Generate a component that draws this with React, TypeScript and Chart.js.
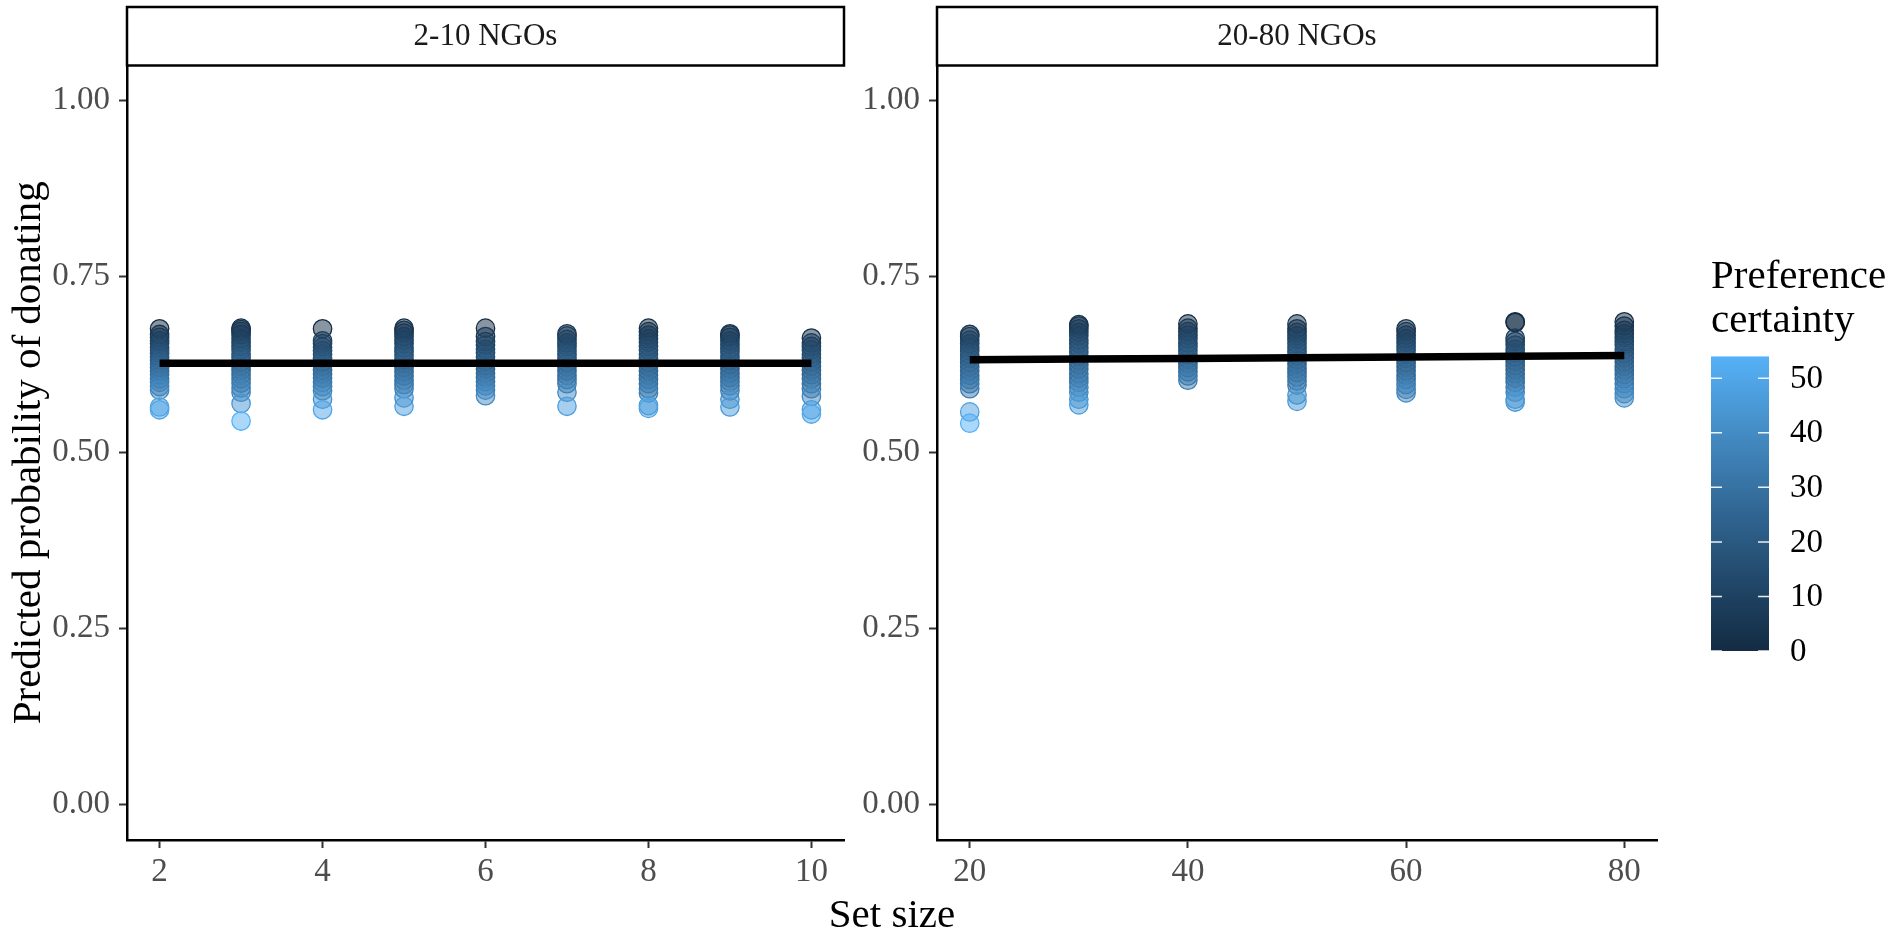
import React, { useEffect, useRef } from "react";
import { Chart, registerables } from "chart.js";
Chart.register(...registerables);

const FONT = "'Liberation Serif', 'Times New Roman', serif";
const W = 1889;
const H = 933;

// ---------- data ----------
const panelTitles = ["2-10 NGOs", "20-80 NGOs"];
const yAxisTitle = "Predicted probability of donating";
const xAxisTitle = "Set size";
const legendTitle = ["Preference", "certainty"];

const leftSetSizes = [2, 3, 4, 5, 6, 7, 8, 9, 10];
const leftProbs = [
  [0.676, 0.668, 0.664, 0.659, 0.655, 0.650, 0.646, 0.641, 0.636, 0.631, 0.626, 0.621, 0.616, 0.611, 0.605, 0.600, 0.594, 0.589, 0.565, 0.561],
  [0.677, 0.675, 0.672, 0.668, 0.662, 0.657, 0.651, 0.646, 0.640, 0.635, 0.629, 0.623, 0.617, 0.611, 0.605, 0.599, 0.592, 0.586, 0.570, 0.545],
  [0.676, 0.659, 0.655, 0.650, 0.645, 0.640, 0.634, 0.629, 0.623, 0.617, 0.612, 0.606, 0.600, 0.594, 0.588, 0.576, 0.561],
  [0.677, 0.674, 0.670, 0.665, 0.660, 0.655, 0.649, 0.644, 0.638, 0.632, 0.627, 0.621, 0.615, 0.609, 0.603, 0.597, 0.591, 0.578, 0.566],
  [0.677, 0.665, 0.658, 0.653, 0.647, 0.642, 0.636, 0.630, 0.624, 0.619, 0.613, 0.607, 0.601, 0.595, 0.589, 0.581],
  [0.669, 0.666, 0.661, 0.656, 0.651, 0.645, 0.640, 0.634, 0.628, 0.622, 0.616, 0.610, 0.604, 0.598, 0.586, 0.566],
  [0.677, 0.672, 0.667, 0.662, 0.657, 0.651, 0.646, 0.640, 0.634, 0.628, 0.622, 0.616, 0.610, 0.604, 0.598, 0.591, 0.585, 0.567, 0.563],
  [0.669, 0.667, 0.664, 0.659, 0.654, 0.648, 0.643, 0.637, 0.631, 0.625, 0.619, 0.613, 0.607, 0.601, 0.595, 0.588, 0.576, 0.565],
  [0.663, 0.656, 0.651, 0.646, 0.640, 0.635, 0.629, 0.623, 0.617, 0.611, 0.605, 0.598, 0.591, 0.580, 0.561, 0.555],
];
const leftCertainty = [
  [1, 5, 7, 9, 11, 13, 15, 17, 19, 21, 23, 25, 27, 29, 31, 33, 36, 38, 48, 50],
  [3, 4, 6, 7, 9, 11, 13, 15, 18, 20, 22, 24, 26, 28, 30, 32, 35, 37, 44, 54],
  [0, 8, 10, 12, 14, 16, 18, 20, 23, 25, 27, 29, 32, 34, 37, 42, 50],
  [2, 4, 6, 8, 10, 12, 14, 16, 18, 20, 22, 24, 26, 28, 30, 32, 35, 41, 47],
  [1, 6, 9, 11, 13, 15, 17, 19, 22, 24, 26, 28, 31, 33, 36, 40],
  [5, 7, 9, 11, 13, 15, 17, 19, 21, 23, 25, 28, 30, 33, 39, 47],
  [1, 4, 6, 8, 10, 12, 14, 16, 18, 20, 22, 24, 26, 28, 30, 33, 36, 45, 48],
  [4, 5, 7, 9, 11, 13, 15, 17, 19, 21, 23, 25, 27, 29, 32, 35, 41, 46],
  [2, 7, 10, 12, 14, 16, 18, 20, 23, 25, 27, 30, 33, 38, 47, 51],
];
const leftFit = [0.627, 0.627, 0.627, 0.627, 0.627, 0.627, 0.627, 0.627, 0.627];

const rightSetSizes = [20, 30, 40, 50, 60, 70, 80];
const rightProbs = [
  [0.668, 0.665, 0.660, 0.655, 0.650, 0.645, 0.639, 0.634, 0.628, 0.622, 0.616, 0.610, 0.604, 0.598, 0.591, 0.558, 0.542],
  [0.682, 0.680, 0.676, 0.671, 0.666, 0.660, 0.655, 0.649, 0.643, 0.637, 0.631, 0.625, 0.619, 0.612, 0.606, 0.600, 0.593, 0.586, 0.576, 0.568],
  [0.683, 0.677, 0.672, 0.667, 0.662, 0.656, 0.651, 0.645, 0.639, 0.633, 0.627, 0.621, 0.615, 0.609, 0.603],
  [0.683, 0.676, 0.671, 0.666, 0.661, 0.655, 0.650, 0.644, 0.638, 0.632, 0.626, 0.620, 0.614, 0.608, 0.602, 0.596, 0.582, 0.573],
  [0.676, 0.672, 0.667, 0.662, 0.657, 0.651, 0.646, 0.640, 0.634, 0.628, 0.622, 0.616, 0.610, 0.604, 0.597, 0.590, 0.585],
  [0.686, 0.685, 0.663, 0.658, 0.653, 0.647, 0.642, 0.636, 0.630, 0.624, 0.618, 0.612, 0.606, 0.600, 0.593, 0.586, 0.576, 0.572],
  [0.686, 0.680, 0.674, 0.669, 0.664, 0.658, 0.653, 0.647, 0.641, 0.635, 0.629, 0.623, 0.617, 0.611, 0.605, 0.598, 0.591, 0.584, 0.578],
];
const rightCertainty = [
  [5, 7, 9, 11, 13, 15, 17, 19, 21, 23, 25, 27, 29, 31, 34, 48, 54],
  [3, 4, 6, 8, 10, 12, 14, 16, 18, 20, 22, 24, 26, 28, 30, 32, 35, 38, 42, 46],
  [0, 4, 7, 9, 11, 13, 15, 17, 19, 21, 23, 26, 28, 31, 34],
  [1, 4, 7, 9, 11, 13, 15, 17, 19, 21, 23, 25, 27, 29, 31, 34, 40, 45],
  [3, 5, 7, 9, 11, 13, 15, 17, 19, 21, 23, 25, 27, 29, 32, 35, 38],
  [0, 1, 8, 10, 12, 14, 16, 18, 20, 22, 24, 26, 28, 30, 33, 36, 42, 45],
  [1, 3, 5, 7, 9, 11, 13, 15, 17, 19, 21, 23, 25, 27, 29, 32, 35, 38, 41],
];
const rightFit = [0.632, 0.633, 0.634, 0.635, 0.636, 0.637, 0.638];

const yTicks = [0, 0.25, 0.5, 0.75, 1.0];
const leftXTicks = [2, 4, 6, 8, 10];
const rightXTicks = [20, 40, 60, 80];
const legendTicks = [0, 10, 20, 30, 40, 50];
const certaintyMin = 0;
const certaintyMax = 54;

// ---------- colour scale (ggplot default gradient, Lab interpolation) ----------
const LOW = [0x13, 0x2b, 0x43];
const HIGH = [0x56, 0xb1, 0xf7];

function srgbToLin(c: number) {
  c /= 255;
  return c <= 0.04045 ? c / 12.92 : Math.pow((c + 0.055) / 1.055, 2.4);
}
function linToSrgb(c: number) {
  const v = c <= 0.0031308 ? 12.92 * c : 1.055 * Math.pow(c, 1 / 2.4) - 0.055;
  return Math.max(0, Math.min(255, Math.round(v * 255)));
}
function rgbToLab(rgb: number[]) {
  const [r, g, b] = rgb.map(srgbToLin);
  const x = (0.4124 * r + 0.3576 * g + 0.1805 * b) / 0.95047;
  const y = 0.2126 * r + 0.7152 * g + 0.0722 * b;
  const z = (0.0193 * r + 0.1192 * g + 0.9505 * b) / 1.08883;
  const f = (t: number) => (t > 0.008856 ? Math.cbrt(t) : 7.787 * t + 16 / 116);
  const fx = f(x), fy = f(y), fz = f(z);
  return [116 * fy - 16, 500 * (fx - fy), 200 * (fy - fz)];
}
function labToRgb(lab: number[]) {
  const [L, A, B] = lab;
  const fy = (L + 16) / 116;
  const fx = fy + A / 500;
  const fz = fy - B / 200;
  const finv = (t: number) => (t * t * t > 0.008856 ? t * t * t : (t - 16 / 116) / 7.787);
  const x = finv(fx) * 0.95047, y = finv(fy), z = finv(fz) * 1.08883;
  const r = 3.2406 * x - 1.5372 * y - 0.4986 * z;
  const g = -0.9689 * x + 1.8758 * y + 0.0415 * z;
  const b = 0.0557 * x - 0.204 * y + 1.057 * z;
  return [linToSrgb(r), linToSrgb(g), linToSrgb(b)];
}
const LOW_LAB = rgbToLab(LOW);
const HIGH_LAB = rgbToLab(HIGH);
function certRGB(c: number) {
  const t = Math.max(0, Math.min(1, (c - certaintyMin) / (certaintyMax - certaintyMin)));
  return labToRgb(LOW_LAB.map((v, i) => v + (HIGH_LAB[i] - v) * t));
}
function certColor(c: number, a = 1) {
  const [r, g, b] = certRGB(c);
  return `rgba(${r},${g},${b},${a})`;
}

// ---------- layout constants ----------
const PLOT_TOP = 65.5;
const PLOT_BOTTOM = 840;
const STRIP_TOP = 7;
const Y_AXIS_W = 127;
const X_AXIS_H = 50;
const TICK_FONT = 33;
const STRIP_FONT = 31;
const TITLE_FONT = 41;

type PanelSpec = {
  setSizes: number[];
  probs: number[][];
  certainty: number[][];
  fit: number[];
  xMin: number;
  xMax: number;
  xTicks: number[];
  padLeft: number;
  padRight: number;
  title: string;
  extra: (chart: any) => void;
};

function makePanel(canvas: HTMLCanvasElement, p: PanelSpec) {
  const pts: { x: number; y: number }[] = [];
  const fills: string[] = [];
  const strokes: string[] = [];
  p.setSizes.forEach((s, i) => {
    p.probs[i].forEach((v, j) => {
      pts.push({ x: s, y: v });
      fills.push(certColor(p.certainty[i][j], 0.5));
      strokes.push(certColor(p.certainty[i][j], 1));
    });
  });
  const fitPts = p.setSizes.map((s, i) => ({ x: s, y: p.fit[i] }));

  const stripPlugin = {
    id: "strip" + p.title,
    afterDraw(chart: any) {
      const ctx = chart.ctx;
      const a = chart.chartArea;
      ctx.save();
      ctx.fillStyle = "#ffffff";
      ctx.fillRect(a.left, STRIP_TOP, a.right - a.left, a.top - STRIP_TOP);
      ctx.strokeStyle = "#000000";
      ctx.lineWidth = 2.5;
      ctx.strokeRect(a.left, STRIP_TOP, a.right - a.left, a.top - STRIP_TOP);
      ctx.fillStyle = "#1a1a1a";
      ctx.font = `${STRIP_FONT}px ${FONT}`;
      ctx.textAlign = "center";
      ctx.textBaseline = "middle";
      ctx.fillText(p.title, (a.left + a.right) / 2, (STRIP_TOP + a.top) / 2 + 1);
      ctx.restore();
      p.extra(chart);
    },
  };

  const axisCommon = {
    grid: {
      display: true,
      drawOnChartArea: false,
      drawTicks: true,
      tickLength: 8,
      tickWidth: 2,
      tickColor: "#333333",
    },
    border: { display: true, color: "#000000", width: 2.5 },
  };

  return new Chart(canvas, {
    type: "scatter",
    data: {
      datasets: [
        {
          type: "line",
          data: fitPts,
          borderColor: "#000000",
          borderWidth: 7.5,
          pointRadius: 0,
          fill: false,
          tension: 0,
          order: 0,
        } as any,
        {
          type: "scatter",
          data: pts,
          pointRadius: 9.2,
          pointBorderWidth: 1.3,
          pointBackgroundColor: fills,
          pointBorderColor: strokes,
          order: 1,
        } as any,
      ],
    },
    options: {
      responsive: false,
      animation: false,
      events: [],
      layout: {
        padding: {
          left: p.padLeft,
          right: p.padRight,
          top: PLOT_TOP,
          bottom: H - PLOT_BOTTOM - X_AXIS_H,
        },
      },
      plugins: { legend: { display: false }, tooltip: { enabled: false } },
      scales: {
        x: {
          type: "linear",
          min: p.xMin,
          max: p.xMax,
          afterBuildTicks: (s: any) => {
            s.ticks = p.xTicks.map((v) => ({ value: v }));
          },
          afterFit: (s: any) => {
            s.height = X_AXIS_H;
          },
          ticks: {
            autoSkip: false,
            maxRotation: 0,
            padding: 5,
            color: "#4d4d4d",
            font: { family: FONT, size: TICK_FONT },
            callback: (v: any) => String(v),
          },
          ...axisCommon,
        },
        y: {
          type: "linear",
          min: -0.05,
          max: 1.05,
          afterBuildTicks: (s: any) => {
            s.ticks = yTicks.map((v) => ({ value: v }));
          },
          afterFit: (s: any) => {
            s.width = Y_AXIS_W;
          },
          ticks: {
            padding: 9,
            color: "#4d4d4d",
            font: { family: FONT, size: TICK_FONT },
            callback: (v: any) => Number(v).toFixed(2),
          },
          ...axisCommon,
        },
      },
    } as any,
    plugins: [stripPlugin],
  });
}

function drawYTitle(chart: any) {
  const ctx = chart.ctx;
  const a = chart.chartArea;
  ctx.save();
  ctx.translate(40, (a.top + a.bottom) / 2);
  ctx.rotate(-Math.PI / 2);
  ctx.fillStyle = "#000000";
  ctx.font = `${TITLE_FONT}px ${FONT}`;
  ctx.textAlign = "center";
  ctx.textBaseline = "alphabetic";
  ctx.fillText(yAxisTitle, 0, 0);
  ctx.restore();
}

function drawRightExtras(chart: any) {
  const ctx = chart.ctx;
  ctx.save();
  // x axis title, centered between the two panels
  ctx.fillStyle = "#000000";
  ctx.font = `${TITLE_FONT}px ${FONT}`;
  ctx.textAlign = "center";
  ctx.textBaseline = "alphabetic";
  ctx.fillText(xAxisTitle, (Y_AXIS_W + chart.chartArea.right) / 2, 927);

  // legend
  const lx = 1711;
  ctx.textAlign = "left";
  ctx.fillText(legendTitle[0], lx, 288);
  ctx.fillText(legendTitle[1], lx, 332);

  const barLeft = 1711;
  const barW = 58;
  const barBottom = 651;
  const pxPerUnit = 5.455;
  const barTop = barBottom - (certaintyMax - certaintyMin) * pxPerUnit;
  const grad = ctx.createLinearGradient(0, barBottom, 0, barTop);
  for (let k = 0; k <= 20; k++) {
    const c = certaintyMin + ((certaintyMax - certaintyMin) * k) / 20;
    grad.addColorStop(k / 20, certColor(c, 1));
  }
  ctx.fillStyle = grad;
  ctx.fillRect(barLeft, barTop, barW, barBottom - barTop);

  ctx.strokeStyle = "rgba(255,255,255,0.9)";
  ctx.lineWidth = 1.5;
  ctx.font = `${TICK_FONT}px ${FONT}`;
  ctx.textBaseline = "middle";
  ctx.fillStyle = "#000000";
  legendTicks.forEach((v) => {
    const y = barBottom - (v - certaintyMin) * pxPerUnit;
    ctx.beginPath();
    ctx.moveTo(barLeft, y);
    ctx.lineTo(barLeft + 11, y);
    ctx.moveTo(barLeft + barW - 11, y);
    ctx.lineTo(barLeft + barW, y);
    ctx.stroke();
    ctx.fillText(String(v), 1790, y + 1);
  });
  ctx.restore();
}

export default function App() {
  const c1 = useRef<HTMLCanvasElement>(null);
  const c2 = useRef<HTMLCanvasElement>(null);

  useEffect(() => {
    document.body.style.margin = "0";
    const ch1 = makePanel(c1.current!, {
      setSizes: leftSetSizes,
      probs: leftProbs,
      certainty: leftCertainty,
      fit: leftFit,
      xMin: 1.6,
      xMax: 10.4,
      xTicks: leftXTicks,
      padLeft: 0,
      padRight: W - 844,
      title: panelTitles[0],
      extra: drawYTitle,
    });
    const ch2 = makePanel(c2.current!, {
      setSizes: rightSetSizes,
      probs: rightProbs,
      certainty: rightCertainty,
      fit: rightFit,
      xMin: 17,
      xMax: 83,
      xTicks: rightXTicks,
      padLeft: 937 - Y_AXIS_W,
      padRight: W - 1657,
      title: panelTitles[1],
      extra: drawRightExtras,
    });
    return () => {
      ch1.destroy();
      ch2.destroy();
    };
  }, []);

  const cs: React.CSSProperties = { position: "absolute", left: 0, top: 0, width: W, height: H };
  return (
    <div style={{ position: "absolute", left: 0, top: 0, width: W, height: H, background: "#fff", overflow: "hidden" }}>
      <canvas ref={c1} width={W} height={H} style={cs} />
      <canvas ref={c2} width={W} height={H} style={cs} />
    </div>
  );
}
